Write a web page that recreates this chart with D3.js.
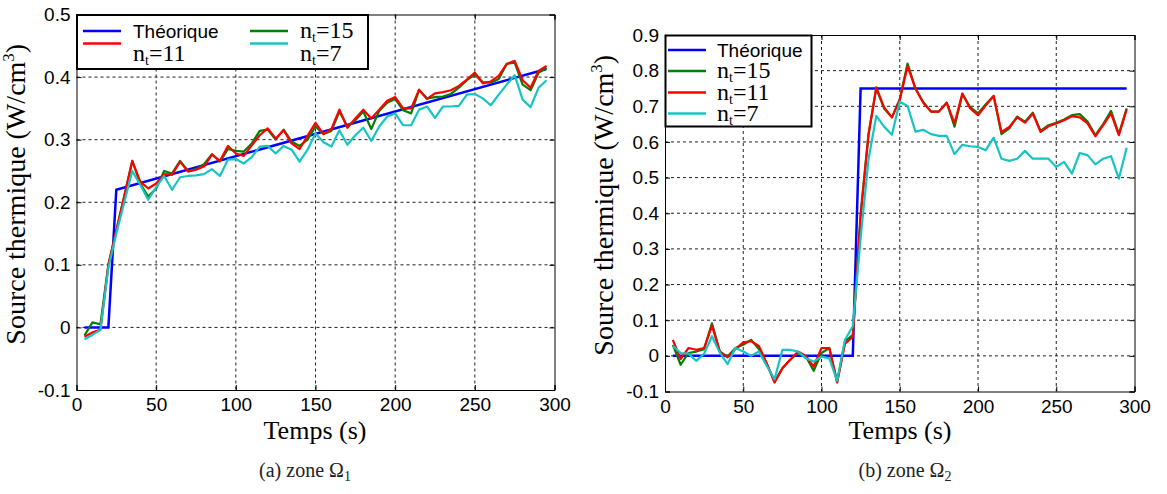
<!DOCTYPE html>
<html><head><meta charset="utf-8">
<script src="https://cdn.jsdelivr.net/npm/d3@7/dist/d3.min.js"></script>
<style>
html,body{margin:0;padding:0;background:#fff;}
svg{display:block;}
</style></head>
<body>
<svg id="chart" width="1167" height="494"></svg>
<script>
// ---------- DATA ----------
const time = [5,10,15,20,25,30,35,40,45,50,55,60,65,70,75,80,85,90,95,100,105,110,115,120,125,130,135,140,145,150,155,160,165,170,175,180,185,190,195,200,205,210,215,220,225,230,235,240,245,250,255,260,265,270,275,280,285,290,295];

// Zone Omega 1
const theoTime1 = [5,20,25,295];
const theoVal1  = [0,0,0.22,0.413];
const z1_nt15 = [-0.013,0.008,0.005,0.10,0.155,0.21,0.266,0.230,0.209,0.222,0.250,0.246,0.266,0.250,0.253,0.261,0.277,0.265,0.285,0.282,0.281,0.294,0.314,0.316,0.300,0.316,0.297,0.290,0.300,0.321,0.309,0.314,0.345,0.321,0.331,0.345,0.317,0.346,0.359,0.365,0.347,0.342,0.379,0.366,0.368,0.369,0.373,0.383,0.395,0.404,0.392,0.391,0.397,0.421,0.423,0.388,0.379,0.407,0.415];
const z1_nt11 = [-0.015,-0.008,-0.004,0.10,0.155,0.21,0.266,0.233,0.222,0.230,0.245,0.244,0.265,0.249,0.252,0.257,0.276,0.266,0.290,0.278,0.274,0.291,0.307,0.318,0.302,0.315,0.294,0.285,0.306,0.327,0.309,0.317,0.348,0.319,0.334,0.348,0.334,0.348,0.362,0.368,0.350,0.350,0.380,0.365,0.374,0.376,0.379,0.386,0.396,0.407,0.390,0.393,0.402,0.421,0.426,0.395,0.383,0.410,0.418];
const z1_nt7  = [-0.019,-0.012,-0.004,0.095,0.15,0.20,0.25,0.228,0.204,0.224,0.242,0.220,0.240,0.242,0.243,0.245,0.253,0.242,0.268,0.269,0.262,0.272,0.289,0.290,0.278,0.290,0.284,0.265,0.284,0.310,0.296,0.289,0.315,0.292,0.307,0.319,0.298,0.321,0.337,0.342,0.323,0.323,0.348,0.353,0.335,0.353,0.353,0.354,0.372,0.373,0.366,0.355,0.372,0.388,0.403,0.364,0.352,0.383,0.395];

// Zone Omega 2
const theoTime2 = [5,120,125,295];
const theoVal2  = [0,0,0.75,0.75];
const z2_nt15 = [0.031,-0.025,0.008,0.012,0.019,0.091,0.012,-0.002,0.022,0.031,0.045,0.019,-0.021,-0.073,-0.035,-0.011,0.008,-0.002,-0.042,0.008,0.022,-0.073,0.041,0.059,0.40,0.62,0.75,0.694,0.669,0.72,0.82,0.75,0.712,0.685,0.685,0.71,0.643,0.734,0.698,0.68,0.706,0.729,0.622,0.638,0.671,0.657,0.682,0.631,0.647,0.654,0.663,0.675,0.678,0.657,0.619,0.65,0.687,0.622,0.694];
const z2_nt11 = [0.045,-0.009,0.022,0.017,0.022,0.085,0.012,-0.004,0.019,0.038,0.041,0.028,-0.021,-0.075,-0.035,-0.011,0.012,0,-0.03,0.022,0.022,-0.075,0.034,0.053,0.39,0.62,0.753,0.697,0.669,0.718,0.813,0.75,0.71,0.685,0.685,0.71,0.652,0.736,0.694,0.675,0.703,0.729,0.628,0.642,0.669,0.654,0.68,0.628,0.644,0.652,0.661,0.672,0.669,0.652,0.616,0.647,0.68,0.619,0.691];
const z2_nt7  = [0.028,0.008,0.006,-0.014,0.006,0.055,0.009,-0.023,0.022,0.012,0,0.012,-0.028,-0.066,0.017,0.017,0.012,-0.007,-0.016,-0.002,-0.007,-0.07,0.045,0.083,0.33,0.55,0.673,0.643,0.62,0.713,0.701,0.629,0.634,0.622,0.617,0.617,0.566,0.592,0.588,0.586,0.577,0.612,0.553,0.547,0.553,0.575,0.553,0.553,0.553,0.53,0.544,0.511,0.569,0.563,0.537,0.553,0.56,0.497,0.584];

const xTicks = [0,50,100,150,200,250,300];
const xTickLabels = ["0","50","100","150","200","250","300"];
const yTicks1 = [-0.1,0,0.1,0.2,0.3,0.4,0.5];
const yTickLabels1 = ["-0.1","0","0.1","0.2","0.3","0.4","0.5"];
const yTicks2 = [-0.1,0,0.1,0.2,0.3,0.4,0.5,0.6,0.7,0.8,0.9];
const yTickLabels2 = ["-0.1","0","0.1","0.2","0.3","0.4","0.5","0.6","0.7","0.8","0.9"];

const xLabel = "Temps (s)";
const yLabelMain = "Source thermique (W/cm";
const captions = ["(a) zone Ω", "(b) zone Ω"];
const captionSubs = ["1","2"];
const theoName = "Théorique";

// ---------- STYLE ----------
const C = {theo:"#0000ff", n15:"#008000", n11:"#ff0000", n7:"#17c4c4"};
const SANS = "'Liberation Sans', Arial, sans-serif";
const SERIF = "'Liberation Serif', 'Times New Roman', serif";

const svg = d3.select("#chart");

const panels = [
  {x0:76.5, x1:554.5, yTop:14.5, yBot:390, yDom:[-0.1,0.5], yTicks:yTicks1, yLabels:yTickLabels1,
   theoT:theoTime1, theoV:theoVal1, s15:z1_nt15, s11:z1_nt11, s7:z1_nt7,
   ylabX:25, xlabX:315, capX:305, cap:0},
  {x0:665, x1:1134.5, yTop:35, yBot:391.5, yDom:[-0.1,0.9], yTicks:yTicks2, yLabels:yTickLabels2,
   theoT:theoTime2, theoV:theoVal2, s15:z2_nt15, s11:z2_nt11, s7:z2_nt7,
   ylabX:613, xlabX:900, capX:905, cap:1}
];

panels.forEach((p, pi) => {
  const x = d3.scaleLinear().domain([0,300]).range([p.x0,p.x1]);
  const y = d3.scaleLinear().domain(p.yDom).range([p.yBot,p.yTop]);
  const g = svg.append("g");

  // grid
  g.append("g").selectAll("line").data(xTicks.slice(1,-1)).join("line")
    .attr("x1",d=>x(d)).attr("x2",d=>x(d)).attr("y1",p.yTop).attr("y2",p.yBot)
    .attr("stroke","#222").attr("stroke-width",1).attr("stroke-dasharray","3,3");
  g.append("g").selectAll("line").data(p.yTicks.slice(1,-1)).join("line")
    .attr("x1",p.x0).attr("x2",p.x1).attr("y1",d=>y(d)).attr("y2",d=>y(d))
    .attr("stroke","#222").attr("stroke-width",1).attr("stroke-dasharray","3,3");

  // axes
  const ax = g.append("g").attr("transform",`translate(0,${p.yBot})`)
    .call(d3.axisBottom(x).tickValues(xTicks).tickSize(-5).tickPadding(8).tickFormat((d,i)=>xTickLabels[i]));
  const axT = g.append("g").attr("transform",`translate(0,${p.yTop})`)
    .call(d3.axisTop(x).tickValues(xTicks).tickSize(-5).tickFormat(""));
  const ay = g.append("g").attr("transform",`translate(${p.x0},0)`)
    .call(d3.axisLeft(y).tickValues(p.yTicks).tickSize(-5).tickPadding(6).tickFormat((d,i)=>p.yLabels[i]));
  const ayR = g.append("g").attr("transform",`translate(${p.x1},0)`)
    .call(d3.axisRight(y).tickValues(p.yTicks).tickSize(-5).tickFormat(""));
  [ax,axT,ay,ayR].forEach(a=>{
    a.select(".domain").attr("stroke","#000").attr("stroke-width",1);
    a.selectAll(".tick line").attr("stroke","#000");
    a.selectAll("text").attr("font-family",SANS).attr("font-size",19).attr("fill","#000");
  });

  // series
  const line = d3.line().x(d=>x(d[0])).y(d=>y(d[1]));
  const theo = p.theoT.map((t,i)=>[t,p.theoV[i]]);
  const mk = arr => time.map((t,i)=>[t,arr[i]]);
  g.append("path").datum(theo).attr("d",line).attr("fill","none").attr("stroke",C.theo).attr("stroke-width",2.5);
  g.append("path").datum(mk(p.s15)).attr("d",line).attr("fill","none").attr("stroke",C.n15).attr("stroke-width",2.2).attr("stroke-linejoin","round");
  g.append("path").datum(mk(p.s11)).attr("d",line).attr("fill","none").attr("stroke",C.n11).attr("stroke-width",2.2).attr("stroke-linejoin","round");
  g.append("path").datum(mk(p.s7)).attr("d",line).attr("fill","none").attr("stroke",C.n7).attr("stroke-width",2.2).attr("stroke-linejoin","round");

  // axis labels
  const yl = g.append("text").attr("transform",`translate(${p.ylabX},${(p.yTop+p.yBot)/2 - 8}) rotate(-90)`)
    .attr("text-anchor","middle").attr("font-family",SERIF).attr("font-size",28).attr("fill","#000");
  yl.append("tspan").text(yLabelMain);
  yl.append("tspan").attr("font-size",17).attr("dy",-11).text("3");
  yl.append("tspan").attr("dy",11).text(")");

  g.append("text").attr("x",p.xlabX).attr("y",439).attr("text-anchor","middle")
    .attr("font-family",SERIF).attr("font-size",26).attr("fill","#000").text(xLabel);

  const cp = g.append("text").attr("x",p.capX).attr("y",477).attr("text-anchor","middle")
    .attr("font-family",SERIF).attr("font-size",20).attr("fill","#222");
  cp.append("tspan").text(captions[p.cap]);
  cp.append("tspan").attr("font-size",14).attr("dy",4).text(captionSubs[p.cap]);
});

// ---------- LEGENDS ----------
function ntText(sel, xx, yy, num){
  const t = sel.append("text").attr("x",xx).attr("y",yy).attr("font-family",SERIF).attr("font-size",24).attr("fill","#000");
  t.append("tspan").text("n");
  t.append("tspan").attr("font-size",14).attr("dy",4).text("t");
  t.append("tspan").attr("dy",-4).text("=" + num);
}
function sansText(sel, xx, yy, s){
  sel.append("text").attr("x",xx).attr("y",yy).attr("font-family",SANS).attr("font-size",19).attr("fill","#000").text(s);
}
function sample(sel, x1, x2, yy, c){
  sel.append("line").attr("x1",x1).attr("x2",x2).attr("y1",yy).attr("y2",yy).attr("stroke",c).attr("stroke-width",2.5);
}

// left legend (2 columns)
const L1 = svg.append("g");
L1.append("rect").attr("x",77).attr("y",15).attr("width",291).attr("height",54).attr("fill","#fff").attr("stroke","#000").attr("stroke-width",2);
sample(L1,83,121,31,C.theo); sansText(L1,133,38,theoName);
sample(L1,83,121,43.5,C.n11); ntText(L1,133,61,"11");
sample(L1,250,288,31,C.n15); ntText(L1,300,38,"15");
sample(L1,250,288,43.5,C.n7); ntText(L1,300,61,"7");

// right legend
const L2 = svg.append("g");
L2.append("rect").attr("x",665.5).attr("y",35.5).attr("width",146).attr("height",91).attr("fill","#fff").attr("stroke","#000").attr("stroke-width",2);
sample(L2,668,706,50,C.theo); sansText(L2,717,56.5,theoName);
sample(L2,668,706,71,C.n15); ntText(L2,717,78,"15");
sample(L2,668,706,92.5,C.n11); ntText(L2,717,99.5,"11");
sample(L2,668,706,113.5,C.n7); ntText(L2,717,120.5,"7");
</script>
</body></html>
